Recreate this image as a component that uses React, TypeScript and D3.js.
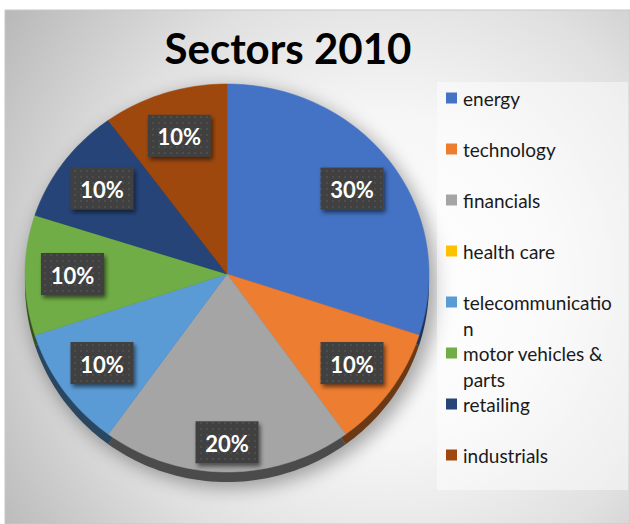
import React from "react";
import * as d3 from "d3";

// ---- data ----
const title = "Sectors 2010";
const categories = [
  "energy",
  "technology",
  "financials",
  "health care",
  "telecommunication",
  "motor vehicles & parts",
  "retailing",
  "industrials",
];
const shares = [30, 10, 20, 0, 10, 10, 10, 10];
const colors = ["#4472C4", "#ED7D31", "#A5A5A5", "#FFC000", "#5B9BD5", "#70AD47", "#264478", "#9E480E"];
const legendLines = [
  ["energy"],
  ["technology"],
  ["financials"],
  ["health care"],
  ["telecommunicatio", "n"],
  ["motor vehicles &", "parts"],
  ["retailing"],
  ["industrials"],
];

// ---- layout ----
const W = 630;
const H = 524;
const cx = 227;
const cy = 274;
const rx = 202;
const ryTop = 190;
const ryBot = 198;
const depth = 10;
const labelFactor = 0.765;
const labelFactorBig = 0.85; // Excel's best-fit pushes the bottom label outward
const boxW = 63;
const boxH = 42;

type Row = { name: string; value: number; color: string; lines: string[] };
const rows: Row[] = categories.map((name, i) => ({
  name,
  value: shares[i],
  color: colors[i],
  lines: legendLines[i],
}));

// project a pie angle (0 = 12 o'clock, clockwise) and radius fraction to the tilted face
const project = (angle: number, f: number, dy = 0): [number, number] => {
  const c = Math.cos(angle);
  const ry = c > 0 ? ryTop : ryBot;
  return [cx + rx * f * Math.sin(angle), cy + dy - ry * f * c];
};

const slicePath = (a: d3.PieArcDatum<Row>, dy = 0) => {
  const n = Math.max(2, Math.ceil(((a.endAngle - a.startAngle) / (2 * Math.PI)) * 240));
  const pts: [number, number][] = [project(0, 0, dy)];
  d3.range(n + 1).forEach((i) => {
    const t = a.startAngle + ((a.endAngle - a.startAngle) * i) / n;
    pts.push(project(t, 1, dy));
  });
  return d3.line()(pts)! + "Z";
};

export default function App() {
  const pie = d3
    .pie<Row>()
    .sort(null)
    .value((d) => d.value);
  const arcs = pie(rows).filter((a) => a.data.value > 0);
  const total = d3.sum(shares);
  const pct = d3.format(".0%");

  const legendY = d3.scalePoint<string>().domain(categories).range([98, 455]);

  const labelPos = (a: d3.PieArcDatum<Row>) => {
    const mid = (a.startAngle + a.endAngle) / 2;
    const f = a.data.name === "financials" ? labelFactorBig : labelFactor;
    return project(mid, f);
  };

  return (
    <svg
      width={W}
      height={H}
      style={{ position: "absolute", left: 0, top: 0, display: "block" }}
      fontFamily="Lato, 'Open Sans', sans-serif"
    >
      <defs>
        <radialGradient id="bg" gradientUnits="userSpaceOnUse" cx={390} cy={280} r={470}>
          <stop offset="0" stopColor="#ffffff" />
          <stop offset="0.35" stopColor="#f6f6f6" />
          <stop offset="0.65" stopColor="#e0e0e0" />
          <stop offset="1" stopColor="#b8b8b8" />
        </radialGradient>
        <filter id="pieShadow" x="-30%" y="-30%" width="160%" height="160%">
          <feGaussianBlur stdDeviation="9" />
        </filter>
        <filter id="boxShadow" x="-30%" y="-30%" width="160%" height="170%">
          <feDropShadow dx="2" dy="3" stdDeviation="2" floodColor="#000" floodOpacity="0.55" />
        </filter>
        <pattern id="dots" width="6" height="6" patternUnits="userSpaceOnUse">
          <rect width="6" height="6" fill="#404040" />
          <rect x="2" y="2" width="2" height="2" fill="#4e4e4e" />
        </pattern>
      </defs>

      {/* chart area */}
      <rect x={5} y={10} width={W - 5} height={H - 10} fill="url(#bg)" stroke="#c8c8c8" strokeWidth={1} />

      {/* title */}
      <text x={288} y={48} textAnchor="middle" dominantBaseline="central" fontSize={42} fontWeight={700} fill="#000">
        {title}
      </text>

      {/* pie shadow */}
      <ellipse
        cx={cx + 5}
        cy={cy + 14}
        rx={rx + 4}
        ry={(ryTop + ryBot) / 2 + 6}
        fill="#000"
        opacity={0.33}
        filter="url(#pieShadow)"
      />

      {/* pie side (thickness) */}
      <g>
        {arcs.map((a) => (
          <path key={"s" + a.data.name} d={slicePath(a, depth)} fill={d3.color(a.data.color)!.darker(2.2).formatHex()} />
        ))}
      </g>

      {/* pie top face */}
      <g>
        {arcs.map((a) => (
          <path key={a.data.name} d={slicePath(a)} fill={a.data.color} stroke={a.data.color} strokeWidth={0.5} />
        ))}
      </g>

      {/* data labels */}
      {arcs.map((a) => {
        const [x, y] = labelPos(a);
        return (
          <g key={"l" + a.data.name}>
            <rect
              x={x - boxW / 2}
              y={y - boxH / 2}
              width={boxW}
              height={boxH}
              fill="url(#dots)"
              filter="url(#boxShadow)"
            />
            <text
              x={x}
              y={y + 1}
              textAnchor="middle"
              dominantBaseline="central"
              fontSize={22}
              fontWeight={700}
              fill="#fff"
            >
              {pct(a.data.value / total)}
            </text>
          </g>
        );
      })}

      {/* legend */}
      <rect x={437} y={82} width={191} height={408} fill="#ffffff" opacity={0.45} />
      {rows.map((r) => {
        const y = legendY(r.name)!;
        return (
          <g key={"lg" + r.name}>
            <rect x={446} y={y - 5.5} width={11} height={11} fill={r.color} />
            {r.lines.map((ln, j) => (
              <text key={j} x={463} y={y + j * 26} dominantBaseline="central" fontSize={19} fill="#1a1a1a">
                {ln}
              </text>
            ))}
          </g>
        );
      })}
    </svg>
  );
}
